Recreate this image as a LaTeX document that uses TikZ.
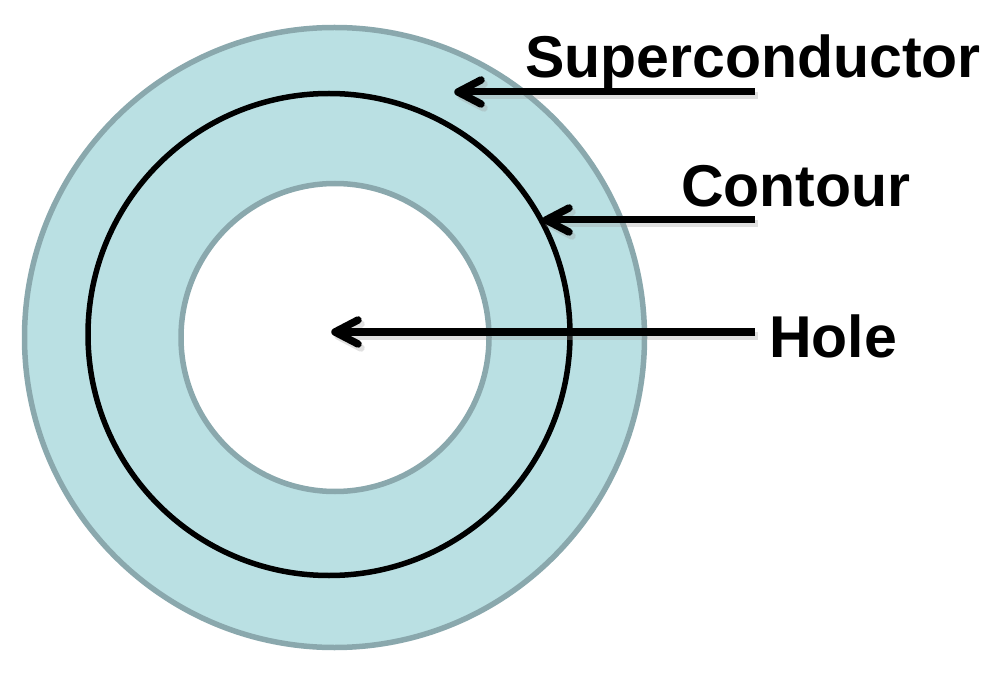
\documentclass[tikz,border=0pt]{standalone}
\usepackage{fontspec}
\setmainfont{Liberation Sans}
\definecolor{ringfill}{HTML}{BAE0E3}
\definecolor{ringline}{HTML}{8AA8AD}
\begin{document}
\begin{tikzpicture}[x=1pt,y=-1pt,
  lbl/.style={font=\fontsize{59}{61}\selectfont\bfseries, anchor=base west, inner sep=0pt},
  pointer/.style={line width=7pt, line join=round},
  barb/.style={line width=7.5pt, line cap=round, line join=round},
  pshadow/.style={draw=black!40, opacity=0.3}]
\useasboundingbox (0,0) rectangle (1004,676);
% ring
\fill[ringfill, even odd rule] (334.5,337.5) circle[radius=310] (335,337.5) circle[radius=154];
\draw[ringline, line width=5.5pt] (334.5,337.5) circle[radius=310];
\draw[ringline, line width=5.5pt] (335,337.5) circle[radius=154];
% contour
\draw[black, line width=5.5pt] (329,334.5) circle[radius=241];
% coordinates
\coordinate (sStart) at (755,92);
\coordinate (sTip) at (458,92);
\coordinate (cStart) at (755,220);
\coordinate (cTip) at (546,220);
\coordinate (hStart) at (755,332);
\coordinate (hTip) at (335,332);
% shadows
\foreach \s/\t in {sStart/sTip,cStart/cTip,hStart/hTip}{
  \draw[pointer,pshadow] ([shift={(3,4)}]\s) -- ([shift={(5,4)}]\t);
  \draw[barb,pshadow] ([shift={(26,-8)}]\t) -- ([shift={(3,4)}]\t) -- ([shift={(26,16)}]\t);
}
% arrows
\foreach \s/\t in {sStart/sTip,cStart/cTip,hStart/hTip}{
  \draw[pointer] (\s) -- ([xshift=2]\t);
  \draw[barb] ([shift={(23,-12)}]\t) -- (\t) -- ([shift={(23,12)}]\t);
}
% labels
\node[lbl] (super) at (525,78) {Superconductor};
\node[lbl] (contour) at (681,207) {Contour};
\node[lbl] (hole) at (769,357) {Hole};
\end{tikzpicture}
\end{document}
